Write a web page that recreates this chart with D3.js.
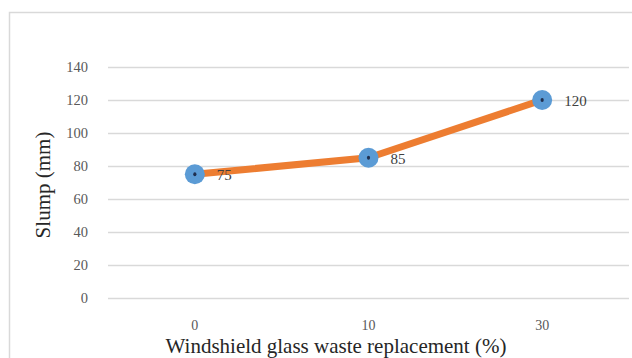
<!DOCTYPE html>
<html>
<head>
<meta charset="utf-8">
<script src="https://cdn.jsdelivr.net/npm/d3@7"></script>
<style>
  html, body { margin: 0; padding: 0; background: #fff; }
  svg { display: block; }
  svg text { font-family: "Liberation Serif", "Times New Roman", serif; }
</style>
</head>
<body>
<svg id="chart" width="632" height="358"></svg>
<script>
// Slump test results by windshield glass waste replacement level
const categories = ["0", "10", "30"];
const slumpValues = [75, 85, 120];
const yTicks = [0, 20, 40, 60, 80, 100, 120, 140];
const xTitle = "Windshield glass waste replacement (%)";
const yTitle = "Slump (mm)";

const svg = d3.select("#chart");
const plot = { left: 108, right: 629, top: 67, bottom: 298 };
const serif = '"Liberation Serif", "Times New Roman", serif';

// Chart-area outline (continues past the right and bottom edges)
svg.append("rect")
  .attr("x", 9.5).attr("y", 12.5)
  .attr("width", 700).attr("height", 400)
  .attr("fill", "#fff")
  .attr("stroke", "#d9d9d9").attr("stroke-width", 1.5);

const x = d3.scaleBand().domain(categories).range([plot.left, plot.right]);
const y = d3.scaleLinear().domain([0, 140]).range([plot.bottom, plot.top]);

// Horizontal gridlines
svg.append("g").selectAll("line").data(yTicks).join("line")
  .attr("x1", plot.left).attr("x2", plot.right)
  .attr("y1", d => Math.round(y(d)) + 0.5).attr("y2", d => Math.round(y(d)) + 0.5)
  .attr("stroke", "#d9d9d9").attr("stroke-width", 1.5);

// Y axis tick labels
const yAxis = d3.axisLeft(y).tickValues(yTicks).tickSize(0).tickPadding(0);
const gy = svg.append("g").attr("transform", `translate(88,0)`).call(yAxis)
  .attr("font-family", null).attr("font-size", null);
gy.select(".domain").remove();
gy.selectAll("text")
  .style("font-family", serif)
  .style("font-size", "14.5px").attr("fill", "#595959");

// X axis tick labels
const xAxis = d3.axisBottom(x).tickSize(0).tickPadding(0);
const gx = svg.append("g").attr("transform", `translate(0,320)`).call(xAxis)
  .attr("font-family", null).attr("font-size", null);
gx.select(".domain").remove();
gx.selectAll("text")
  .style("font-family", serif)
  .style("font-size", "14px").attr("fill", "#595959");

// Axis titles
svg.append("text")
  .attr("x", 336).attr("y", 353)
  .attr("text-anchor", "middle")
  .style("font-size", "21px").attr("fill", "#262626")
  .text(xTitle);

svg.append("text")
  .attr("transform", "translate(50,185) rotate(-90)")
  .attr("text-anchor", "middle")
  .style("font-size", "21px").attr("fill", "#262626")
  .text(yTitle);

const cx = d => x(d) + x.bandwidth() / 2;
const pts = categories.map((c, i) => ({ c, v: slumpValues[i] }));

// Series line
svg.append("path")
  .datum(pts)
  .attr("fill", "none")
  .attr("stroke", "#ED7D31").attr("stroke-width", 7)
  .attr("stroke-linejoin", "round")
  .attr("d", d3.line().x(d => cx(d.c)).y(d => y(d.v)));

// Markers
const mk = svg.append("g").selectAll("g").data(pts).join("g")
  .attr("transform", d => `translate(${cx(d.c)},${y(d.v)})`);
mk.append("circle").attr("r", 10).attr("fill", "#5B9BD5");
mk.append("ellipse").attr("rx", 1.6).attr("ry", 2).attr("fill", "#1F2F4F");

// Value labels
svg.append("g").selectAll("text").data(pts).join("text")
  .attr("x", d => cx(d.c) + 22)
  .attr("y", d => y(d.v) + 6)
  .style("font-size", "15px").attr("fill", "#404040")
  .text(d => d.v);
</script>
</body>
</html>
